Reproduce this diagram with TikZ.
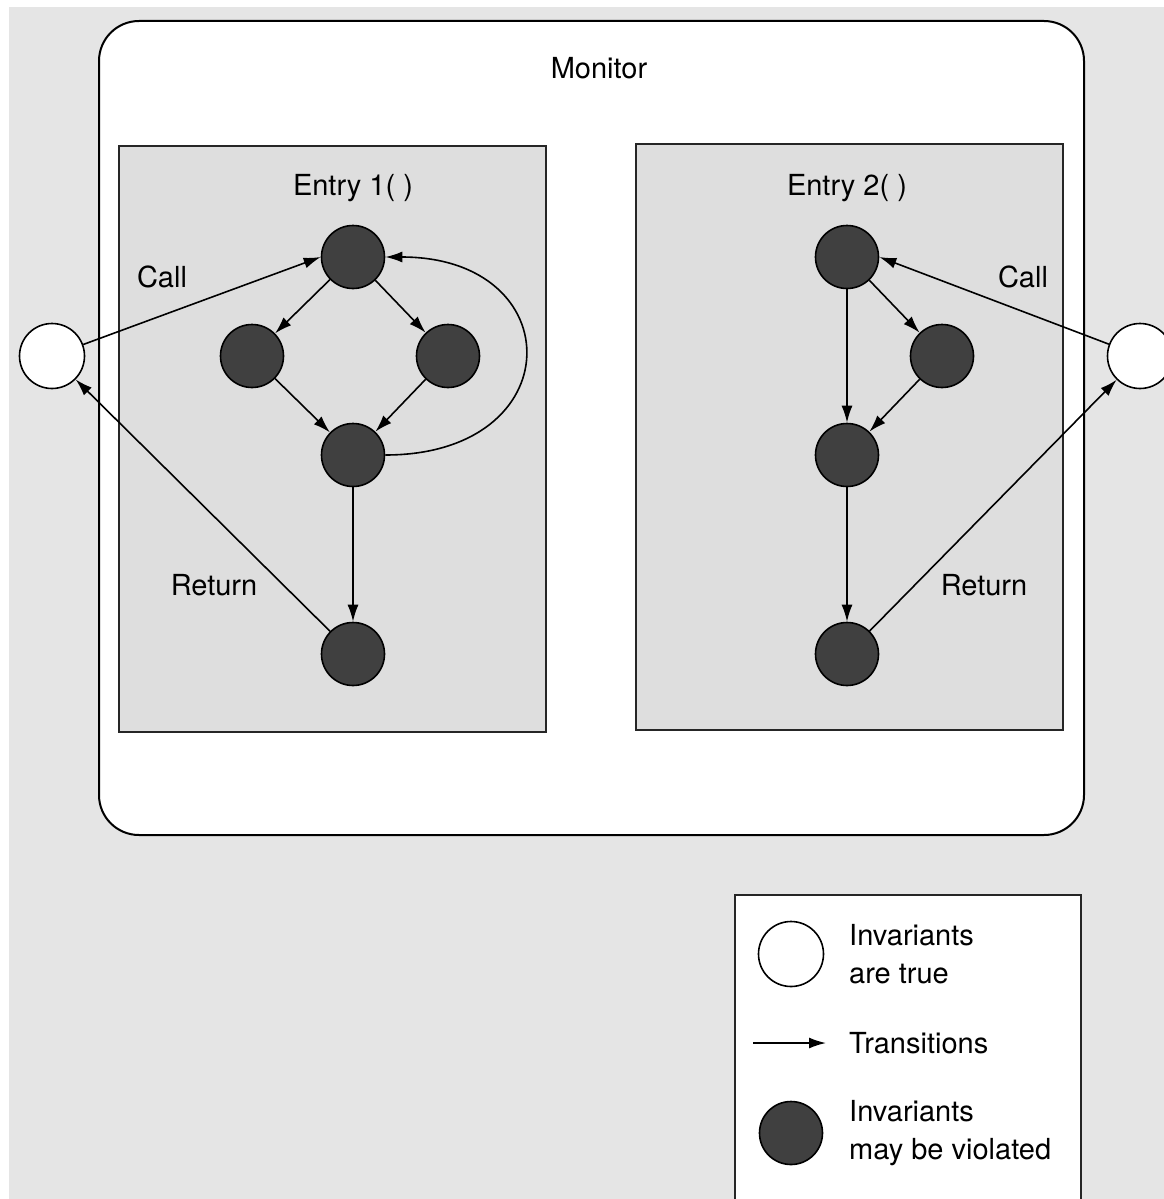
\documentclass[tikz,border=0pt]{standalone}
\usepackage{fontspec}
\setmainfont{TeX Gyre Heros}
\usetikzlibrary{arrows.meta}
\definecolor{bggray}{HTML}{E5E5E5}
\definecolor{boxgray}{HTML}{DEDEDE}
\definecolor{statedark}{HTML}{404040}
\begin{document}
\begin{tikzpicture}[x=1pt,y=-1pt,
  busy/.style={circle, draw=black, line width=1.6pt, fill=statedark, minimum size=63pt, inner sep=0pt},
  idle/.style={circle, draw=black, line width=1.6pt, fill=white, minimum size=65pt, inner sep=0pt},
  trans/.style={-{Latex[length=17pt,width=11pt]}, line width=1.6pt},
  lbl/.style={inner sep=0pt, font=\fontsize{29}{38}\selectfont},
  entrybox/.style={draw=black!85, line width=2pt, fill=boxgray}]

\useasboundingbox (0,0) rectangle (1164,1199);
\clip (0,0) rectangle (1164,1199);
\fill[white] (0,0) rectangle (1164,1199);
\fill[bggray] (9,7) rectangle (1164,1199);

% monitor and its two entry procedures
\draw[line width=2pt, rounded corners=40pt, fill=white] (99,21) rectangle (1084,835);
\node[lbl] (montitle) at (599,68) {Monitor};
\draw[entrybox] (119,146) rectangle (546,732);
\draw[entrybox] (636,144) rectangle (1063,730);
\node[lbl] (e1title) at (353,188) {Entry 1( )};
\node[lbl] (e2title) at (847,188) {Entry 2( )};

% states where the invariants hold
\node[idle] (lw) at (52,356) {};
\node[idle] (rw) at (1140,356) {};

% states of Entry 1
\node[busy] (t1) at (353,257) {};
\node[busy] (l1) at (252,356) {};
\node[busy] (r1) at (448,356) {};
\node[busy] (m1) at (353,455) {};
\node[busy] (b1) at (353,654) {};

% states of Entry 2
\node[busy] (t2) at (847,257) {};
\node[busy] (r2) at (942,356) {};
\node[busy] (m2) at (847,455) {};
\node[busy] (b2) at (847,654) {};

% transitions
\draw[trans] (lw) -- (t1.west);
\draw[trans] (b1) -- (lw);
\draw[trans] (t1) -- (l1);
\draw[trans] (t1) -- (r1);
\draw[trans] (l1) -- (m1);
\draw[trans] (r1) -- (m1);
\draw[trans] (m1) -- (b1);
\draw[trans] (m1.east) .. controls +(186,0) and +(186,0) .. (t1.east);

\draw[trans] (rw) -- (t2.east);
\draw[trans] (b2) -- (rw);
\draw[trans] (t2) -- (r2);
\draw[trans] (t2) -- (m2);
\draw[trans] (r2) -- (m2);
\draw[trans] (m2) -- (b2);

\node[lbl] (call1) at (162,277) {Call};
\node[lbl] (ret1) at (214,585) {Return};
\node[lbl] (call2) at (1023,277) {Call};
\node[lbl] (ret2) at (984,585) {Return};

% legend
\draw[line width=2pt, draw=black!85, fill=white] (735,895) rectangle (1081,1230);
\node[idle] (legidle) at (791,954) {};
\node[lbl, anchor=west, align=left] (legidletxt) at (849,954) {Invariants\\are true};
\coordinate (la) at (753,1043);
\coordinate (lb) at (826,1043);
\draw[trans] (la) -- (lb);
\node[lbl, anchor=west] (legtrans) at (849,1043) {Transitions};
\node[busy] (legbusy) at (791,1133) {};
\node[lbl, anchor=west, align=left] (legbusytxt) at (849,1133) {Invariants\\may be violated};
\end{tikzpicture}
\end{document}
